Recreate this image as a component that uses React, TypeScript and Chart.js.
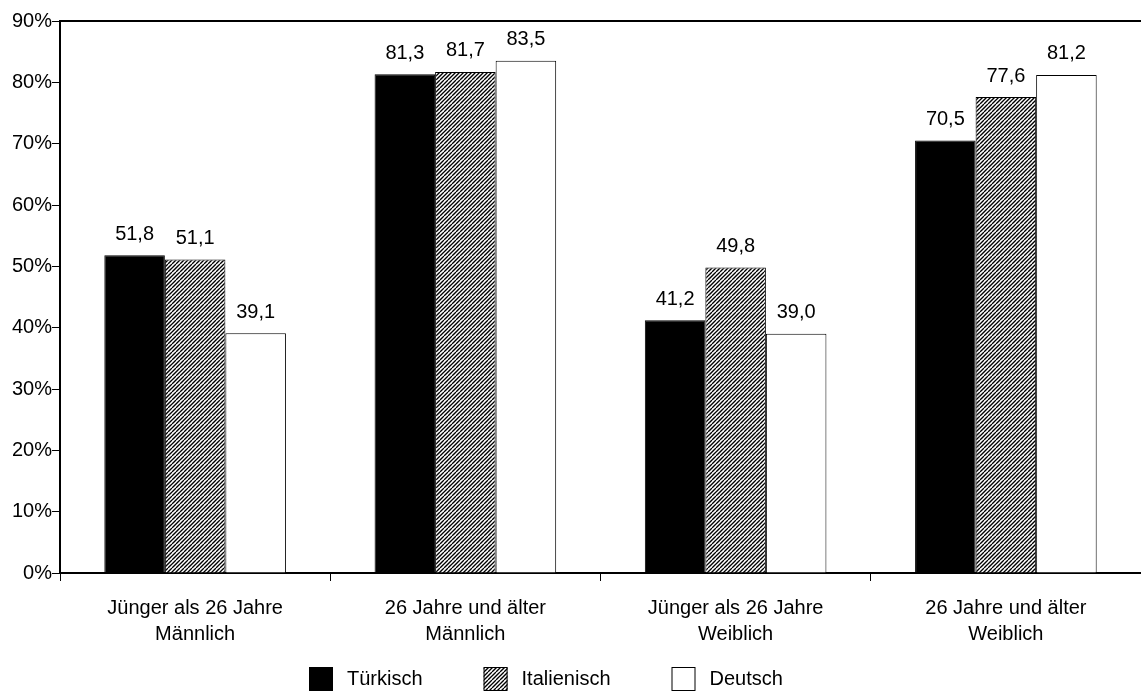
import React, { useEffect, useRef } from 'react';
import { Chart, registerables } from 'chart.js';

Chart.register(...registerables);

const categories: string[][] = [
  ['Jünger als 26 Jahre', 'Männlich'],
  ['26 Jahre und älter', 'Männlich'],
  ['Jünger als 26 Jahre', 'Weiblich'],
  ['26 Jahre und älter', 'Weiblich'],
];
const seriesNames = ['Türkisch', 'Italienisch', 'Deutsch'];
const tuerkisch = [51.8, 81.3, 41.2, 70.5];
const italienisch = [51.1, 81.7, 49.8, 77.6];
const deutsch = [39.1, 83.5, 39.0, 81.2];
const yMin = 0;
const yMax = 90;
const yStep = 10;

const FONT = '"Liberation Sans", Arial, sans-serif';
const FS = 20;

function makeHatch(): CanvasPattern | string {
  const c = document.createElement('canvas');
  c.width = 8;
  c.height = 8;
  const g = c.getContext('2d');
  if (!g) return '#888';
  g.fillStyle = '#fff';
  g.fillRect(0, 0, 8, 8);
  g.strokeStyle = '#000';
  g.lineWidth = 1.3;
  for (let o = -8; o <= 8; o += 4) {
    g.beginPath();
    g.moveTo(o, 8);
    g.lineTo(o + 8, 0);
    g.stroke();
  }
  const p = g.createPattern(c, 'repeat');
  return p || '#888';
}

const fmt = (v: number) => v.toFixed(1).replace('.', ',');

const valueLabels = {
  id: 'valueLabels',
  afterDatasetsDraw(chart: any) {
    const ctx = chart.ctx;
    ctx.save();
    ctx.font = `${FS}px ${FONT}`;
    ctx.fillStyle = '#000';
    ctx.textAlign = 'center';
    ctx.textBaseline = 'middle';
    chart.data.datasets.forEach((ds: any, i: number) => {
      const meta = chart.getDatasetMeta(i);
      meta.data.forEach((el: any, j: number) => {
        ctx.fillText(fmt(ds.data[j]), el.x, el.y - 21);
      });
    });
    ctx.restore();
  },
};

const frame = {
  id: 'frame',
  afterDraw(chart: any) {
    const { ctx, chartArea } = chart;
    ctx.save();
    ctx.strokeStyle = '#000';
    ctx.lineWidth = 2;
    ctx.beginPath();
    ctx.moveTo(chartArea.left - 1, chartArea.top);
    ctx.lineTo(chartArea.right, chartArea.top);
    ctx.stroke();
    ctx.restore();
  },
};

const customLegend = {
  id: 'customLegend',
  afterDraw(chart: any) {
    const ctx = chart.ctx;
    const box = 24;
    const gapText = 14;
    const gapItem = 61;
    const cy = 679;
    ctx.save();
    ctx.font = `${FS}px ${FONT}`;
    let x = 309;
    chart.data.datasets.forEach((ds: any) => {
      const w = ctx.measureText(ds.label).width;
      const top = Math.round(cy - box / 2);
      ctx.fillStyle = ds.backgroundColor;
      ctx.fillRect(x, top, box, box);
      ctx.strokeStyle = '#000';
      ctx.lineWidth = 1;
      ctx.strokeRect(x + 0.5, top + 0.5, box - 1, box - 1);
      ctx.fillStyle = '#000';
      ctx.textAlign = 'left';
      ctx.textBaseline = 'middle';
      ctx.fillText(ds.label, x + box + gapText, cy);
      x += box + gapText + w + gapItem;
    });
    ctx.restore();
  },
};

export default function App() {
  const ref = useRef<HTMLCanvasElement | null>(null);

  useEffect(() => {
    if (!ref.current) return;
    Chart.defaults.color = '#000';
    Chart.defaults.font.family = FONT;
    Chart.defaults.font.size = FS;
    const hatch = makeHatch();
    const chart = new Chart(ref.current, {
      type: 'bar',
      data: {
        labels: categories,
        datasets: [
          {
            label: seriesNames[0],
            data: tuerkisch,
            backgroundColor: '#000',
            borderColor: '#000',
            borderWidth: 1,
          },
          {
            label: seriesNames[1],
            data: italienisch,
            backgroundColor: hatch as any,
            borderColor: '#000',
            borderWidth: 1,
          },
          {
            label: seriesNames[2],
            data: deutsch,
            backgroundColor: '#fff',
            borderColor: '#000',
            borderWidth: 1,
          },
        ],
      },
      options: {
        animation: false,
        responsive: false,
        maintainAspectRatio: false,
        layout: { padding: { top: 21, left: 0, right: 0, bottom: 0 } },
        datasets: {
          bar: { categoryPercentage: 0.672, barPercentage: 1 },
        },
        plugins: {
          legend: { display: false },
          tooltip: { enabled: false },
        },
        scales: {
          x: {
            grid: {
              display: true,
              drawOnChartArea: false,
              drawTicks: true,
              tickLength: 8,
              color: '#000',
              lineWidth: 1,
            },
            border: { display: true, color: '#000', width: 2 },
            ticks: {
              color: '#000',
              font: { size: FS, family: FONT, lineHeight: 1.3 },
              padding: 14,
              maxRotation: 0,
              autoSkip: false,
            },
            afterFit(scale: any) {
              scale.height = 120;
            },
          },
          y: {
            min: yMin,
            max: yMax,
            grid: {
              display: true,
              drawOnChartArea: false,
              drawTicks: true,
              tickLength: 8,
              color: '#000',
              lineWidth: 1,
            },
            border: { display: true, color: '#000', width: 2 },
            ticks: {
              stepSize: yStep,
              color: '#000',
              padding: 0,
              font: { size: FS, family: FONT },
              callback: (v: any) => `${v}%`,
            },
            afterFit(scale: any) {
              scale.width = 60;
            },
          },
        },
      },
      plugins: [valueLabels, frame, customLegend],
    });
    return () => chart.destroy();
  }, []);

  return (
    <div style={{ position: 'absolute', left: 0, top: 0, width: 1141, height: 693, background: '#fff' }}>
      <canvas ref={ref} width={1141} height={693} style={{ display: 'block', width: 1141, height: 693 }} />
    </div>
  );
}
